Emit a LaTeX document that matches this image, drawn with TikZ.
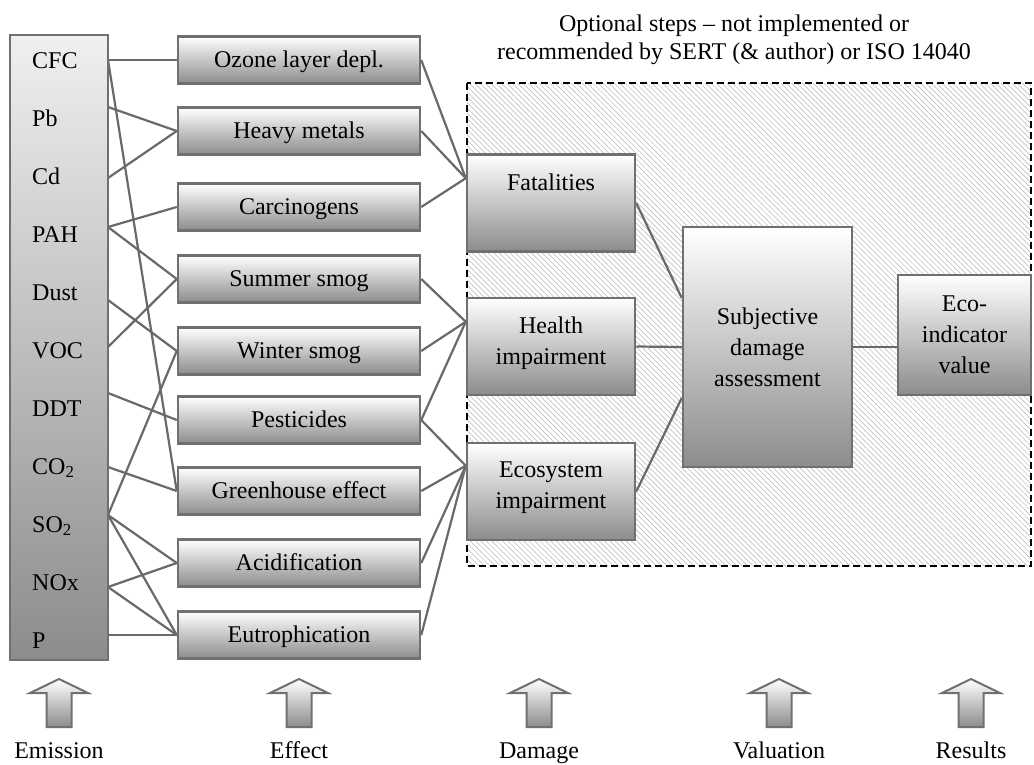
\documentclass[tikz,border=0pt]{standalone}
\usepackage{fontspec}
\setmainfont{Liberation Serif}
\usetikzlibrary{calc,patterns.meta,backgrounds}
\definecolor{bord}{RGB}{112,112,112}
\definecolor{lnk}{RGB}{105,105,105}
\definecolor{shd}{RGB}{140,140,140}
\definecolor{hatchc}{RGB}{180,180,180}
\begin{document}
\begin{tikzpicture}[x=1pt,y=-1pt,
  every node/.style={font=\fontsize{24}{31}\selectfont},
  box/.style={draw=bord, line width=2.5pt, top color=white, bottom color=shd, inner sep=0pt},
  effbox/.style={box, minimum width=242pt, minimum height=47pt, text height=15.9pt, text depth=0pt},
  dmgbox/.style={box, minimum width=168pt, minimum height=97pt},
  lbl/.style={anchor=base west, inner sep=0pt},
  dtxt/.style={anchor=north, inner sep=0pt, align=center},
  conn/.style={draw=lnk, line width=2.2pt},
  uparrow/.style={draw=bord, line width=2pt, top color=white, bottom color=shd, line join=miter},
  caption/.style={anchor=base, inner sep=0pt}
]
\useasboundingbox (0,0) rectangle (1034,764);

\node[anchor=north, inner sep=0pt, align=center, font=\fontsize{24}{28.5}\selectfont] (title) at (734,14.5)
  {Optional steps -- not implemented or\\recommended by SERT (\& author) or ISO 14040};

% emission column
\node[box, top color=white!94!black, minimum width=98pt, minimum height=625pt] (em) at (59,347.5) {};
\node[lbl] (cfc) at (32,68) {CFC};
\node[lbl] (pb) at (32,126) {Pb};
\node[lbl] (cd) at (32,184) {Cd};
\node[lbl] (pah) at (32,242) {PAH};
\node[lbl] (dust) at (32,300) {Dust};
\node[lbl] (voc) at (32,358) {VOC};
\node[lbl] (ddt) at (32,416) {DDT};
\node[lbl] (co2) at (32,474) {CO\textsubscript{2}};
\node[lbl] (so2) at (32,532) {SO\textsubscript{2}};
\node[lbl] (nox) at (32,590) {NOx};
\node[lbl] (p) at (32,648) {P};

\coordinate (aCFC) at (108,60);
\coordinate (aPb) at (108,107);
\coordinate (aCd) at (108,178);
\coordinate (aPAH) at (108,227);
\coordinate (aDust) at (108,300);
\coordinate (aVOC) at (108,347);
\coordinate (aDDT) at (108,393);
\coordinate (aCO2) at (108,467);
\coordinate (aSO2) at (108,515);
\coordinate (aNOx) at (108,587);
\coordinate (aP) at (108,635);

% effect column
\node[effbox] (oz) at (299,60) {Ozone layer depl.};
\node[effbox] (hm) at (299,131) {Heavy metals};
\node[effbox] (ca) at (299,207) {Carcinogens};
\node[effbox] (ss) at (299,279) {Summer smog};
\node[effbox] (ws) at (299,351) {Winter smog};
\node[effbox] (pe) at (299,420) {Pesticides};
\node[effbox] (gh) at (299,491) {Greenhouse effect};
\node[effbox] (ac) at (299,563) {Acidification};
\node[effbox] (eu) at (299,635) {Eutrophication};

% damage column
\node[dmgbox] (fat) at (551,203) {};
\node[dmgbox] (hea) at (551,346.5) {};
\node[dmgbox] (eco) at (551,491.5) {};
\node[dtxt] (fatt) at ([yshift=-20pt]fat.north) {Fatalities};
\node[dtxt] (heat) at ([yshift=-20pt]hea.north) {Health\\impairment};
\node[dtxt] (ecot) at ([yshift=-20pt]eco.north) {Ecosystem\\impairment};
\coordinate (fatin) at ([yshift=-25pt]fat.north west);
\coordinate (heain) at ([yshift=-25pt]hea.north west);
\coordinate (ecoin) at ([yshift=-24pt]eco.north west);

% valuation and result
\node[box, minimum width=169pt, minimum height=240pt, align=center] (sub) at (767.5,347) {Subjective\\damage\\assessment};
\node[box, minimum width=133pt, minimum height=120pt, align=center] (res) at (964.5,335) {Eco-\\indicator\\value};
\coordinate (s1) at ([yshift=49pt]sub.west);
\coordinate (s3) at ([yshift=-51pt]sub.west);

\begin{pgfonlayer}{background}
% optional region
\path[pattern={Lines[angle=-45,distance=3.8pt,line width=0.5pt]}, pattern color=hatchc]
  (467,83) rectangle (1031,566);
\draw[black, line width=1.8pt, dash pattern=on 7pt off 4pt] (467,83) rectangle (1031,566);

% connectors emission -> effect
\draw[conn] (aCFC) -- (oz.west);
\draw[conn] (aCFC) -- (gh.west);
\draw[conn] (aPb) -- (hm.west);
\draw[conn] (aCd) -- (hm.west);
\draw[conn] (aPAH) -- (ca.west);
\draw[conn] (aPAH) -- (ss.west);
\draw[conn] (aDust) -- (ws.west);
\draw[conn] (aVOC) -- (ss.west);
\draw[conn] (aDDT) -- (pe.west);
\draw[conn] (aCO2) -- (gh.west);
\draw[conn] (aSO2) -- (ws.west);
\draw[conn] (aSO2) -- (ac.west);
\draw[conn] (aSO2) -- (eu.west);
\draw[conn] (aNOx) -- (ac.west);
\draw[conn] (aNOx) -- (eu.west);
\draw[conn] (aP) -- (eu.west);

% effect -> damage
\draw[conn] (oz.east) -- (fatin);
\draw[conn] (hm.east) -- (fatin);
\draw[conn] (ca.east) -- (fatin);
\draw[conn] (ss.east) -- (heain);
\draw[conn] (ws.east) -- (heain);
\draw[conn] (pe.east) -- (heain);
\draw[conn] (pe.east) -- (ecoin);
\draw[conn] (gh.east) -- (ecoin);
\draw[conn] (ac.east) -- (ecoin);
\draw[conn] (eu.east) -- (ecoin);

% damage -> valuation -> result
\draw[conn] (fat.east) -- (s1);
\draw[conn] (hea.east) -- (sub.west);
\draw[conn] (eco.east) -- (s3);
\draw[conn] (sub.east) -- (sub.east -| res.west);
\end{pgfonlayer}

% bottom arrows
\foreach \cx in {59,299,539,779,971}
  \draw[uparrow] (\cx,679) -- (\cx+29,693) -- (\cx+12.5,693) -- (\cx+12.5,727)
     -- (\cx-12.5,727) -- (\cx-12.5,693) -- (\cx-29,693) -- cycle;

\node[caption] (c1) at (59,758) {Emission};
\node[caption] (c2) at (299,758) {Effect};
\node[caption] (c3) at (539,758) {Damage};
\node[caption] (c4) at (779,758) {Valuation};
\node[caption] (c5) at (971,758) {Results};
\end{tikzpicture}
\end{document}
